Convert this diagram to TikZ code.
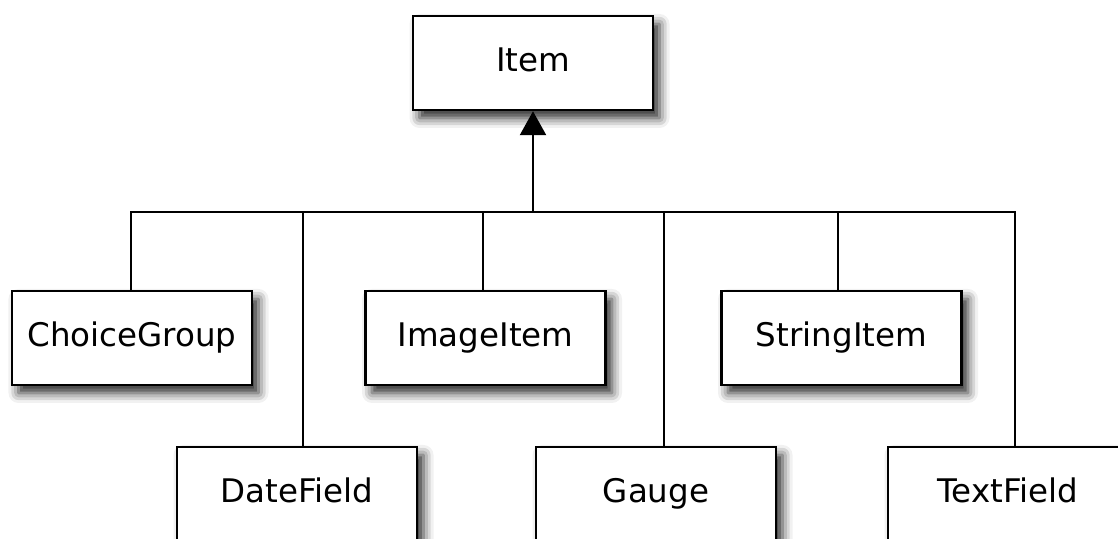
\documentclass[tikz,border=0pt]{standalone}
\usepackage{fontspec}
\setmainfont{DejaVu Sans}
\usepackage{tikz}
\usetikzlibrary{arrows.meta, shadows.blur}

\begin{document}
\begin{tikzpicture}[
        classbox/.style={draw, line width=1.4pt, fill=white, minimum width=4.8cm, minimum height=1.88cm,
            inner sep=0pt, text height=13.5pt, text depth=3.5pt, font=\fontsize{18.5}{22}\selectfont,
            blur shadow={shadow xshift=0.13cm, shadow yshift=-0.16cm, shadow blur radius=0.2cm, shadow opacity=85}},
        link/.style={line width=1.4pt}
    ]
            \clip (0, 0) rectangle (22.36, 10.78);

            \node[classbox] (item) at (10.66, 9.52){Item};

            % first row
            \node[classbox] (choicegroup) at (2.64, 4.02){ChoiceGroup};
            \node[classbox] (imageitem) at (9.71, 4.02){ImageItem};
            \node[classbox] (stringitem) at (16.83, 4.02){StringItem};

            % second row, cut at the bottom
            \node[classbox] (datefield) at (5.94, 0.9){DateField};
            \node[classbox] (gauge) at (13.12, 0.9){Gauge};
            \node[classbox] (textfield) at (20.16, 0.9){TextField};

            % the bar all subclasses hang from
            \coordinate (bar) at (10.66, 6.54);
            \foreach \name/\x in {choicegroup/2.62, datefield/6.06, imageitem/9.66, gauge/13.28, stringitem/16.76, textfield/20.30} {
                \coordinate (bar-\name) at (\x, 6.54);
            }
            \foreach \name in {datefield, imageitem, gauge, stringitem} {
                \draw[link] (bar-\name) -- (bar-\name |- \name.north);
            }
            \draw[link] (bar-choicegroup |- choicegroup.north) -- (bar-choicegroup) -- (bar-textfield)
                -- (bar-textfield |- textfield.north);
            \draw[link, -{Triangle[width=0.52cm, length=0.48cm]}] (bar) -- (item.south);
        \end{tikzpicture}
\end{document}
